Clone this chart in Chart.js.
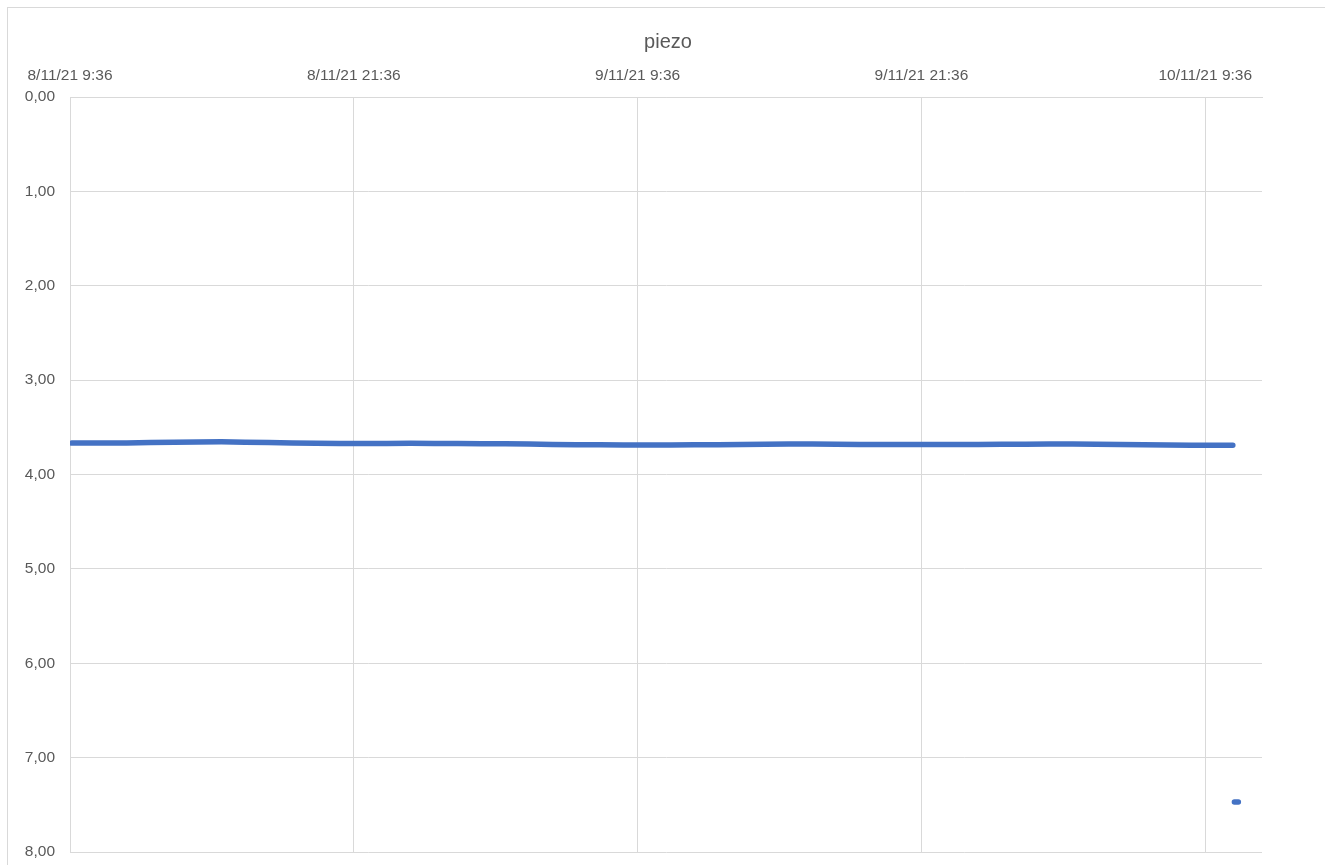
<!DOCTYPE html>
<html>
<head>
<meta charset="utf-8">
<title>piezo</title>
<script src="https://cdn.jsdelivr.net/npm/chart.js@4/dist/chart.umd.min.js"></script>
<style>
  html, body { margin: 0; padding: 0; background: #ffffff; }
  #wrap { width: 1325px; height: 865px; position: relative; }
</style>
</head>
<body>
<div id="wrap"><canvas id="c" width="1325" height="865"></canvas></div>
<script>
// Chart title
const chartTitle = 'piezo';

// Reading timestamps (d/m/yy h:mm)
const times = [
  '8/11/21 9:40', '8/11/21 10:00', '8/11/21 11:00', '8/11/21 12:00', '8/11/21 13:00',
  '8/11/21 14:00', '8/11/21 15:00', '8/11/21 16:00', '8/11/21 17:00', '8/11/21 18:00',
  '8/11/21 19:00', '8/11/21 20:00', '8/11/21 21:00', '8/11/21 22:00', '8/11/21 23:00',
  '9/11/21 0:00', '9/11/21 1:00', '9/11/21 2:00', '9/11/21 3:00', '9/11/21 4:00',
  '9/11/21 5:00', '9/11/21 6:00', '9/11/21 7:00', '9/11/21 8:00', '9/11/21 9:00',
  '9/11/21 10:00', '9/11/21 11:00', '9/11/21 12:00', '9/11/21 13:00', '9/11/21 14:00',
  '9/11/21 15:00', '9/11/21 16:00', '9/11/21 17:00', '9/11/21 18:00', '9/11/21 19:00',
  '9/11/21 20:00', '9/11/21 21:00', '9/11/21 22:00', '9/11/21 23:00',
  '10/11/21 0:00', '10/11/21 1:00', '10/11/21 2:00', '10/11/21 3:00', '10/11/21 4:00',
  '10/11/21 5:00', '10/11/21 6:00', '10/11/21 7:00', '10/11/21 8:00', '10/11/21 9:00',
  '10/11/21 10:00', '10/11/21 10:46', '10/11/21 10:48', '10/11/21 10:50', '10/11/21 11:00'
];

// Piezometric level (m), one value per timestamp; null = missing reading
const piezo = [
  3.667, 3.667, 3.666, 3.665, 3.662,
  3.658, 3.655, 3.654, 3.657, 3.660,
  3.665, 3.668, 3.671, 3.672, 3.671,
  3.670, 3.671, 3.672, 3.673, 3.675,
  3.678, 3.681, 3.684, 3.686, 3.688,
  3.688, 3.687, 3.686, 3.684, 3.682,
  3.679, 3.678, 3.678, 3.679, 3.681,
  3.682, 3.683, 3.683, 3.682,
  3.681, 3.680, 3.679, 3.678, 3.678,
  3.679, 3.681, 3.684, 3.687, 3.689,
  3.690, 3.691, null, 7.47, 7.47
];

// Time axis labels and range
const xTickLabels = ['8/11/21 9:36', '8/11/21 21:36', '9/11/21 9:36', '9/11/21 21:36', '10/11/21 9:36'];
const xAxisEnd = '10/11/21 12:00';

// Depth axis
const yMin = 0;
const yMax = 8;
const yStep = 1;

function parseStamp(s) {
  const [datePart, timePart] = s.split(' ');
  const [d, m, y] = datePart.split('/').map(Number);
  const [hh, mm] = timePart.split(':').map(Number);
  return Date.UTC(2000 + y, m - 1, d, hh, mm) / 3600000;
}

const origin = parseStamp(xTickLabels[0]);
const toHours = s => parseStamp(s) - origin;
const tickHours = xTickLabels.map(toHours);
const points = times.map((t, i) => ({ x: toHours(t), y: piezo[i] }));

const textColor = '#595959';
const gridColor = '#d9d9d9';
const fontFamily = '"Liberation Sans", Arial, sans-serif';

const decor = {
  id: 'decor',
  beforeDraw(chart) {
    const ctx = chart.ctx;
    ctx.save();
    ctx.fillStyle = '#ffffff';
    ctx.fillRect(0, 0, chart.width, chart.height);
    ctx.strokeStyle = gridColor;
    ctx.lineWidth = 1;
    ctx.strokeRect(7.5, 7.5, chart.width + 20, chart.height + 20);
    ctx.restore();
  },
  afterDraw(chart) {
    const ctx = chart.ctx;
    ctx.save();
    ctx.fillStyle = textColor;
    ctx.font = '20px ' + fontFamily;
    ctx.textAlign = 'center';
    ctx.textBaseline = 'middle';
    ctx.fillText(chartTitle, 668, 42);
    ctx.restore();
  }
};

new Chart(document.getElementById('c'), {
  type: 'line',
  data: {
    datasets: [{
      label: chartTitle,
      data: points,
      borderColor: '#4472C4',
      backgroundColor: '#4472C4',
      borderWidth: 5.5,
      borderCapStyle: 'round',
      borderJoinStyle: 'round',
      pointRadius: 0,
      pointHoverRadius: 0,
      spanGaps: false,
      tension: 0,
      fill: false
    }]
  },
  options: {
    responsive: false,
    animation: false,
    devicePixelRatio: 1,
    layout: { padding: { left: 0, top: 0, right: 63, bottom: 13 } },
    plugins: {
      legend: { display: false },
      title: { display: false },
      tooltip: { enabled: false }
    },
    scales: {
      x: {
        type: 'linear',
        position: 'top',
        min: 0,
        max: toHours(xAxisEnd),
        afterBuildTicks(scale) {
          scale.ticks = tickHours.map(v => ({ value: v }));
        },
        afterFit(scale) {
          scale.height = 97;
          scale.paddingLeft = 0;
          scale.paddingRight = 0;
        },
        ticks: {
          autoSkip: false,
          maxRotation: 0,
          padding: 12,
          color: textColor,
          font: { family: fontFamily, size: 15.5 },
          callback(value) {
            const i = tickHours.indexOf(value);
            return i >= 0 ? xTickLabels[i] : '';
          }
        },
        grid: { color: gridColor, lineWidth: 1, drawTicks: false },
        border: { color: gridColor, width: 1 }
      },
      y: {
        type: 'linear',
        reverse: true,
        min: yMin,
        max: yMax,
        afterFit(scale) {
          scale.width = 70;
          scale.paddingTop = 0;
          scale.paddingBottom = 0;
        },
        ticks: {
          stepSize: yStep,
          padding: 15,
          color: textColor,
          font: { family: fontFamily, size: 15.5 },
          callback: v => v.toFixed(2).replace('.', ',')
        },
        grid: { color: gridColor, lineWidth: 1, drawTicks: false },
        border: { color: gridColor, width: 1 }
      }
    }
  },
  plugins: [decor]
});
</script>
</body>
</html>
